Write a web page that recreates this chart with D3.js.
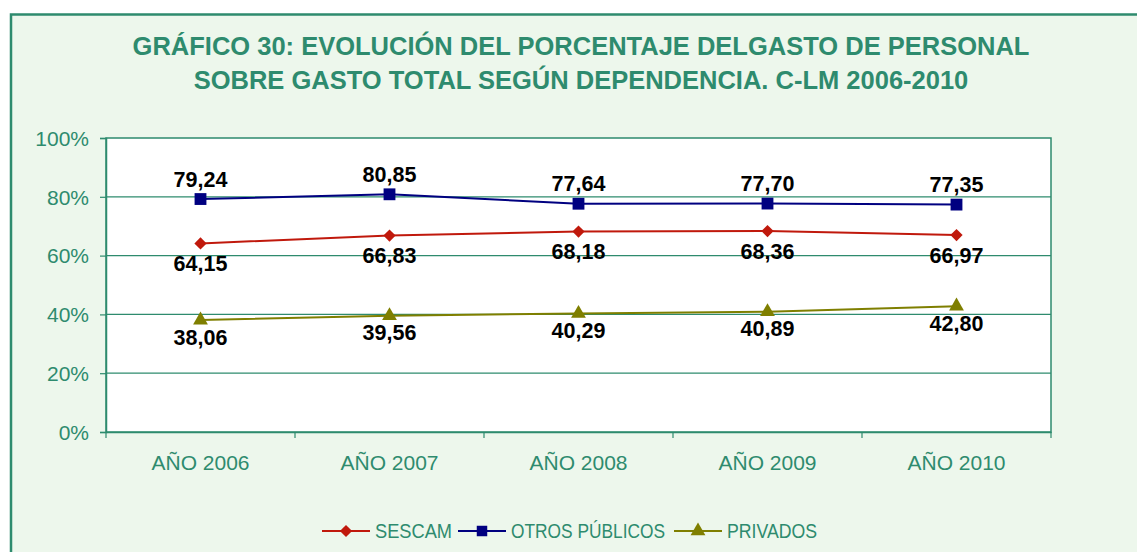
<!DOCTYPE html>
<html><head><meta charset="utf-8">
<script src="https://cdn.jsdelivr.net/npm/d3@7"></script>
<style>html,body{margin:0;padding:0;background:#fff;}svg{display:block;}</style>
</head><body>
<svg id="c" width="1137" height="552"></svg>
<script>
const categories = ["AÑO 2006","AÑO 2007","AÑO 2008","AÑO 2009","AÑO 2010"];
const sescam = [64.15, 66.83, 68.18, 68.36, 66.97];
const otros = [79.24, 80.85, 77.64, 77.70, 77.35];
const privados = [38.06, 39.56, 40.29, 40.89, 42.80];
const yTicks = [0, 20, 40, 60, 80, 100];
const seriesNames = ["SESCAM", "OTROS PÚBLICOS", "PRIVADOS"];
const titleLines = ["GRÁFICO 30: EVOLUCIÓN DEL PORCENTAJE DELGASTO DE PERSONAL", "SOBRE GASTO TOTAL SEGÚN DEPENDENCIA. C-LM 2006-2010"];

const green = "#2E8B6E";
const FF = "Arial, 'Liberation Sans', sans-serif";
const svg = d3.select("#c");
svg.append("rect").attr("x",11).attr("y",14.5).attr("width",1140).attr("height",560)
  .attr("fill","#EDF7EC").attr("stroke",green).attr("stroke-width",2.5);

svg.selectAll("text.title").data(titleLines).join("text")
  .attr("x",581).attr("y",(d,i)=>55+i*34).attr("text-anchor","middle")
  .attr("font-family",FF).attr("font-weight","bold")
  .attr("font-size",25.5).attr("fill",green).text(d=>d);

const L=106, R=1051, T=138, B=432;
const x = d3.scaleBand().domain(categories).range([L,R]);
const y = d3.scaleLinear().domain([0,100]).range([B,T]);

svg.append("rect").attr("x",L).attr("y",T).attr("width",R-L).attr("height",B-T).attr("fill","#fff");

// gridlines
svg.append("g").selectAll("line").data(yTicks.filter(d=>d>0&&d<100)).join("line")
  .attr("x1",L).attr("x2",R).attr("y1",d=>y(d)).attr("y2",d=>y(d))
  .attr("stroke",green).attr("stroke-width",1.2);
svg.append("rect").attr("x",L).attr("y",T).attr("width",R-L).attr("height",B-T)
  .attr("fill","none").attr("stroke",green).attr("stroke-width",1.5);

const yAxis = svg.append("g").attr("transform",`translate(${L},0)`)
  .call(d3.axisLeft(y).tickValues(yTicks).tickFormat(d=>d+"%").tickSize(6).tickPadding(11));
yAxis.select(".domain").attr("stroke",green).attr("stroke-width",1.5);
yAxis.selectAll(".tick line").attr("stroke",green).attr("stroke-width",1.2);
yAxis.selectAll(".tick text").attr("fill",green).attr("font-size",21)
  .attr("font-family",FF).attr("dy","0.35em");

const xAxis = svg.append("g").attr("transform",`translate(0,${B})`)
  .call(d3.axisBottom(x).tickSize(0).tickPadding(22));
xAxis.select(".domain").attr("stroke",green).attr("stroke-width",1.5);
xAxis.selectAll(".tick text").attr("fill",green).attr("font-size",21)
  .attr("font-family",FF).attr("y",31).attr("dy","0.35em");
// boundary ticks
const bounds = categories.map(c=>x(c)).concat([R]);
svg.append("g").selectAll("line").data(bounds).join("line")
  .attr("x1",d=>d).attr("x2",d=>d).attr("y1",B).attr("y2",B+6)
  .attr("stroke",green).attr("stroke-width",1.2);

const cx = c => x(c)+x.bandwidth()/2;
const diamond = {draw(ctx,size){const r=Math.sqrt(size)/2*1.414; ctx.moveTo(0,-r);ctx.lineTo(r,0);ctx.lineTo(0,r);ctx.lineTo(-r,0);ctx.closePath();}};
const series = [
  {name:seriesNames[0], vals:sescam, color:"#C0190C", sym:diamond, size:75, dy:20},
  {name:seriesNames[1], vals:otros, color:"#000080", sym:d3.symbolSquare, size:140, dy:-20},
  {name:seriesNames[2], vals:privados, color:"#7F7F00", sym:d3.symbolTriangle, size:95, dy:17}
];
const line = d3.line().x((d,i)=>cx(categories[i])).y(d=>y(d));
series.forEach(s=>{
  svg.append("path").datum(s.vals).attr("d",line).attr("fill","none")
    .attr("stroke",s.color).attr("stroke-width",2);
  svg.append("g").selectAll("path").data(s.vals).join("path")
    .attr("d",d3.symbol().type(s.sym).size(s.size))
    .attr("transform",(d,i)=>`translate(${cx(categories[i])},${y(d)})`)
    .attr("fill",s.color);
});
series.forEach(s=>{
  svg.append("g").selectAll("text").data(s.vals).join("text")
    .attr("x",(d,i)=>cx(categories[i])).attr("y",d=>y(d)+s.dy)
    .attr("dy","0.35em")
    .attr("text-anchor","middle").attr("font-weight","bold").attr("font-size",21.5)
    .attr("font-family",FF).attr("fill","#000")
    .text(d=>d.toFixed(2).replace(".",","));
});

// legend
const leg = svg.append("g");
const legX = [322, 458, 674], legY = 531;
const legTextW = [77, 154, 90];
series.forEach((s,i)=>{
  const g = leg.append("g").attr("transform",`translate(${legX[i]},${legY})`);
  g.append("line").attr("x1",0).attr("x2",48).attr("y1",0).attr("y2",0).attr("stroke",s.color).attr("stroke-width",2);
  g.append("path").attr("d",d3.symbol().type(s.sym).size(s===series[1]?110:s.size)).attr("transform","translate(24,0)").attr("fill",s.color);
  g.append("text").attr("x",53).attr("y",0).attr("dy","0.35em")
    .attr("font-size",21).attr("fill",green)
    .attr("textLength",legTextW[i]).attr("lengthAdjust","spacingAndGlyphs")
    .attr("font-family",FF).text(s.name);
});
</script>
</body></html>
